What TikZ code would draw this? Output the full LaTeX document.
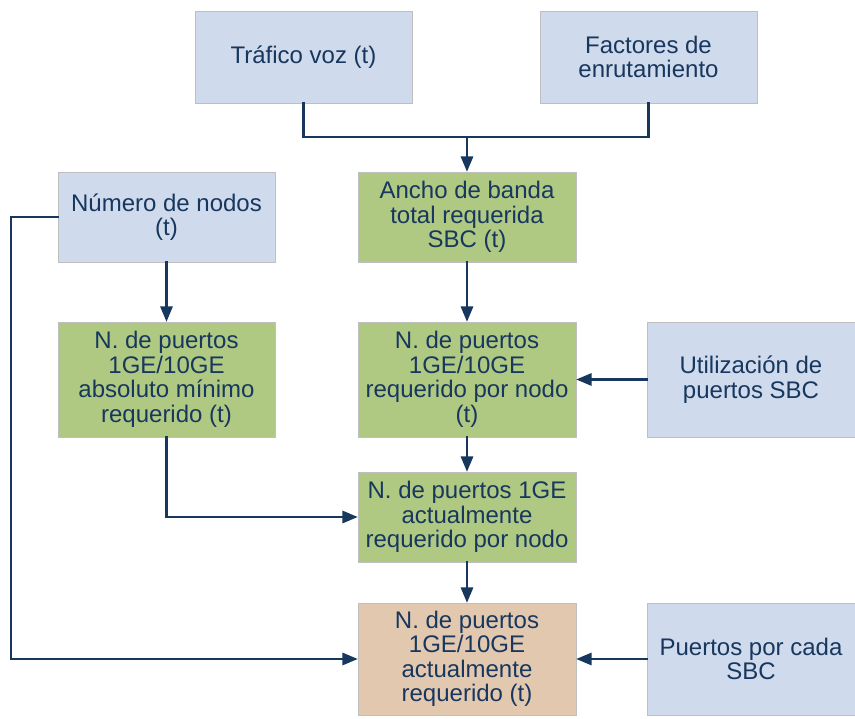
\documentclass[tikz,border=0pt]{standalone}
\usepackage{fontspec}
\setmainfont{Liberation Sans}
\usepackage{xcolor}
\usepackage{tikz}
\usetikzlibrary{arrows}
\definecolor{linea}{HTML}{17375E}
\definecolor{azul}{HTML}{CFDAEC}
\definecolor{verde}{HTML}{AFC982}
\definecolor{beige}{HTML}{E3C8B0}
\definecolor{borde}{HTML}{BFBFBF}

\begin{document}
\begin{tikzpicture}[line cap=rect,line join=miter,>=triangle 45,x=1pt,y=-1pt,
  caja/.style={draw=borde,line width=0.8pt,inner sep=1pt,align=center,
    text=linea,font=\fontsize{24}{24.5}\selectfont},
  dato/.style={caja,fill=azul},
  calc/.style={caja,fill=verde},
  final/.style={caja,fill=beige},
  flecha/.style={draw=linea,line width=2.6pt}]
\useasboundingbox (0,0) rectangle (855,719);
\node[dato,minimum width=217pt,minimum height=92pt] (trafico) at (303.5,57) {Tráfico voz (t)};
\node[dato,minimum width=217pt,minimum height=92pt] (factores) at (648.5,57) {Factores de\\enrutamiento};
\node[dato,minimum width=217pt,minimum height=90pt] (numero) at (166.5,217) {Número de nodos\\(t)};
\node[calc,minimum width=218pt,minimum height=90pt] (ancho) at (467,217) {Ancho de banda\\total requerida\\SBC (t)};
\node[calc,minimum width=217pt,minimum height=115pt] (absoluto) at (166.5,379.5) {N. de puertos\\1GE/10GE\\absoluto mínimo\\requerido (t)};
\node[calc,minimum width=218pt,minimum height=115pt] (pornodo) at (467,379.5) {N. de puertos\\1GE/10GE\\requerido por nodo\\(t)};
\node[dato,minimum width=208pt,minimum height=115pt] (utiliz) at (751,379.5) {Utilización de\\puertos SBC};
\node[calc,minimum width=218pt,minimum height=90pt] (actual) at (467,517) {N. de puertos 1GE\\actualmente\\requerido por nodo};
\node[final,minimum width=218pt,minimum height=112pt] (total) at (467,659) {N. de puertos\\1GE/10GE\\actualmente\\requerido (t)};
\node[dato,minimum width=208pt,minimum height=112pt] (cada) at (751,659) {Puertos por cada\\SBC};
\coordinate (junta) at (467,137);
\coordinate (izq) at (11,217);
\draw[flecha] (trafico) |- (junta) -| (factores);
\draw[flecha,->] (junta) -- (ancho);
\draw[flecha,->] (numero.west) -- (izq) |- (total.west);
\draw[flecha,->] (numero) -- (absoluto);
\draw[flecha,->] (absoluto) |- (actual.west);
\draw[flecha,->] (ancho) -- (pornodo);
\draw[flecha,->] (utiliz) -- (pornodo);
\draw[flecha,->] (pornodo) -- (actual);
\draw[flecha,->] (actual) -- (total);
\draw[flecha,->] (cada) -- (total);
\end{tikzpicture}
\end{document}
